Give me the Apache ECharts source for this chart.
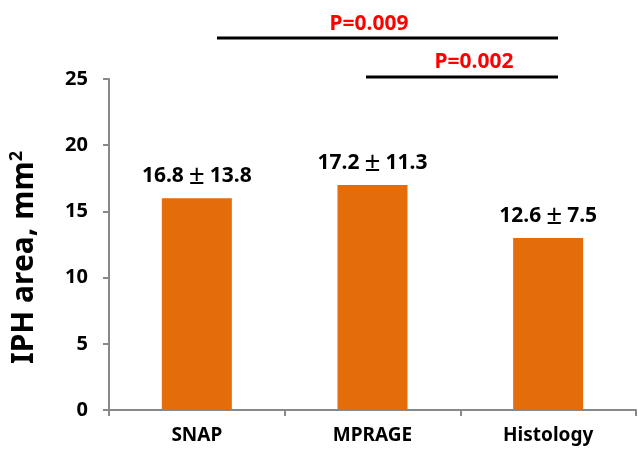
<!DOCTYPE html>
<html>
<head>
<meta charset="utf-8">
<script src="https://cdn.jsdelivr.net/npm/echarts@6/dist/echarts.min.js"></script>
<style>
  html, body { margin: 0; padding: 0; background: #fff; }
  #chart { width: 638px; height: 450px; }
</style>
</head>
<body>
<div id="chart"></div>
<script>
// categories and bar heights as drawn
const categories = ['SNAP', 'MPRAGE', 'Histology'];
const barValues = [16, 17, 13];
// mean ± sd text printed above each bar
const means = ['16.8', '17.2', '12.6'];
const sds = ['13.8', '11.3', '7.5'];
// significance annotations
const pLabels = ['P=0.009', 'P=0.002'];

const font = '"Noto Sans", "Liberation Sans", sans-serif';
const chart = echarts.init(document.getElementById('chart'));

const option = {
  backgroundColor: '#fff',
  animation: false,
  grid: { left: 107, right: 2, top: 79, bottom: 40, containLabel: false },
  xAxis: {
    type: 'category',
    data: categories,
    axisLine: { lineStyle: { color: '#888', width: 2 } },
    axisTick: { show: true, length: 6, lineStyle: { color: '#888', width: 2 } },
    axisLabel: { color: '#000', fontSize: 19, fontWeight: 'bold', fontFamily: font, margin: 16 }
  },
  yAxis: {
    type: 'value',
    min: 0,
    max: 25,
    interval: 5,
    name: '{t|IPH area, mm}{s|2}',
    nameLocation: 'middle',
    nameRotate: 90,
    nameGap: 68,
    nameTextStyle: {
      padding: [0, 26, 0, 0],
      rich: {
        t: { fontSize: 30, fontWeight: 'bold', fontFamily: font, color: '#000' },
        s: { fontSize: 18, fontWeight: 'bold', fontFamily: font, color: '#000', verticalAlign: 'top', padding: [0, 0, 15, 0] }
      }
    },
    axisLine: { show: true, lineStyle: { color: '#888', width: 2 } },
    axisTick: { show: true, length: 6, lineStyle: { color: '#888', width: 2 } },
    axisLabel: { color: '#000', fontSize: 20, fontWeight: 'bold', fontFamily: font, margin: 21 },
    splitLine: { show: false }
  },
  series: [{
    type: 'bar',
    data: barValues,
    barWidth: 70,
    itemStyle: { color: '#E46C0A' },
    label: {
      show: true,
      position: 'top',
      distance: 8,
      formatter: p => `{n|${means[p.dataIndex]}}{pm|±}{n|${sds[p.dataIndex]}}`,
      rich: {
        n: { fontSize: 21, fontWeight: 'bold', fontFamily: font, color: '#000' },
        pm: { fontSize: 28, fontWeight: 'normal', fontFamily: font, color: '#000', width: 26, align: 'center' }
      }
    }
  }],
  graphic: [
    { type: 'line', shape: { x1: 217, y1: 38, x2: 558, y2: 38 }, style: { stroke: '#000', lineWidth: 3 } },
    { type: 'line', shape: { x1: 366, y1: 77, x2: 558, y2: 77 }, style: { stroke: '#000', lineWidth: 3 } },
    { type: 'text', x: 369, y: 24, style: { text: pLabels[0], fill: '#ff0000', font: 'bold 21px ' + font, textAlign: 'center', textVerticalAlign: 'middle' } },
    { type: 'text', x: 474, y: 62, style: { text: pLabels[1], fill: '#ff0000', font: 'bold 21px ' + font, textAlign: 'center', textVerticalAlign: 'middle' } }
  ]
};

chart.setOption(option);
</script>
</body>
</html>
